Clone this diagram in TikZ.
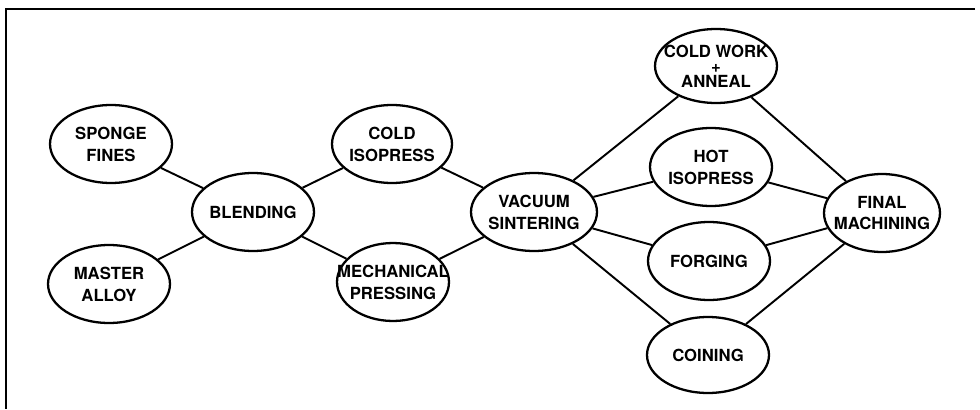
\documentclass[tikz,border=0pt]{standalone}
\usepackage{fontspec}
\newfontfamily\procfont{TeX Gyre Heros}
\usetikzlibrary{shapes.geometric, positioning}

\begin{document}
\begin{tikzpicture}[
    x=0.02cm, y=-0.02cm,
    proc/.style={ellipse, draw, line width=1.3pt, minimum width=2.44cm, minimum height=1.56cm, inner sep=0pt},
    lbl/.style={font=\procfont\bfseries\fontsize{9.5}{12.5}\selectfont, align=center},
    link/.style={line width=1.1pt},
]

\useasboundingbox (0,0) rectangle (980,409);

% ===== Frame =====
\draw[line width=1.2pt] (975,9) -- (6,9) -- (6,409);

% ===== Raw material =====
\node[proc, label={[lbl]center:SPONGE\\FINES}] (sponge) at (111,144) {};
\node[proc, label={[lbl]center:MASTER\\ALLOY}] (master) at (109,284) {};
\node[proc, label={[lbl]center:BLENDING}] (blend) at (253,212) {};

% ===== Compaction =====
\node[proc, minimum width=2.4cm, label={[lbl]center:COLD\\ISOPRESS}] (coldiso) at (392,144) {};
\node[proc, minimum width=2.24cm, label={[lbl]center:MECHANICAL\\PRESSING}] (mech) at (393,282) {};
\node[proc, minimum width=2.52cm, label={[lbl]center:VACUUM\\SINTERING}] (vacuum) at (534,212) {};

% ===== Secondary working =====
\node[proc, minimum height=1.48cm, label={[lbl]center:COLD WORK\\[-4pt]+\\[-4pt]ANNEAL}] (coldwork) at (716,66) {};
\node[proc, label={[lbl]center:HOT\\ISOPRESS}] (hotiso) at (711,167) {};
\node[proc, label={[lbl]center:FORGING}] (forge) at (709,261) {};
\node[proc, minimum height=1.52cm, label={[lbl]center:COINING}] (coin) at (708,355) {};
\node[proc, minimum width=2.32cm, label={[lbl]center:FINAL\\MACHINING}] (final) at (882,213) {};

% ===== Connections =====
\draw[link] (sponge) -- (blend);
\draw[link] (master) -- (blend);
\draw[link] (blend) -- (coldiso);
\draw[link] (blend) -- (mech);
\draw[link] (coldiso) -- (vacuum);
\draw[link] (mech) -- (vacuum);
\foreach \step in {coldwork, hotiso, forge, coin}{
  \draw[link] (vacuum) -- (\step);
  \draw[link] (\step) -- (final);
}

\end{tikzpicture}
\end{document}
